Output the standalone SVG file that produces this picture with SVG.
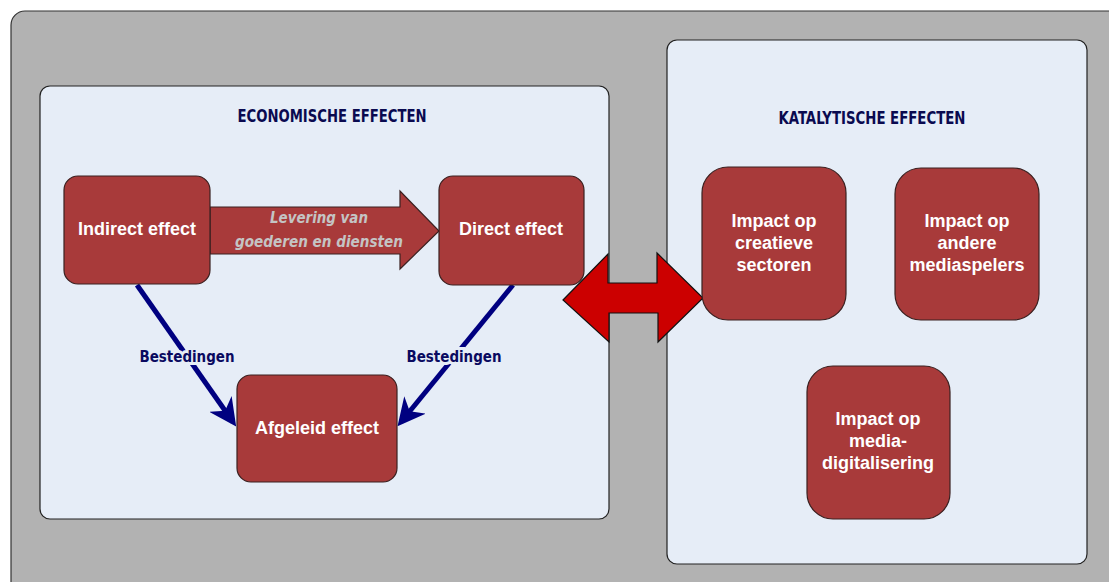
<svg xmlns="http://www.w3.org/2000/svg" width="1109" height="582" viewBox="0 0 1109 582">
  <defs>
    <style>
      .panel { fill: #e6edf7; stroke: #222; stroke-width: 1.2; }
      .node { fill: #a83a3a; stroke: #3a2020; stroke-width: 1.2; }
      .ntext { font-family: "Liberation Sans", Arial, sans-serif; font-weight: bold; font-size: 18px; fill: #ffffff; text-anchor: middle; }
      .title { font-family: "DejaVu Sans Condensed", "Liberation Sans Narrow", "Liberation Sans", sans-serif; font-weight: bold; font-size: 17px; fill: #0a0a50; text-anchor: middle; }
      .elabel { font-family: "DejaVu Sans Condensed", "Liberation Sans Narrow", "Liberation Sans", sans-serif; font-weight: bold; font-size: 16px; fill: #0a0a60; text-anchor: middle; stroke: #e6edf7; stroke-width: 6; paint-order: stroke; }
      .flow { stroke: #000080; stroke-width: 5; fill: none; }
      .alabel { font-family: "DejaVu Sans Condensed", "Liberation Sans Narrow", "Liberation Sans", sans-serif; font-weight: bold; font-style: italic; font-size: 16px; fill: #c4c4c4; text-anchor: middle; }
    </style>
    <marker id="navyHead" viewBox="0 0 10 10" refX="8" refY="5" markerWidth="5.5" markerHeight="5.5" orient="auto" markerUnits="strokeWidth">
      <path d="M0,0 L10,5 L0,10 L3,5 Z" fill="#000080"/>
    </marker>
  </defs>

  <!-- background frame -->
  <rect x="11" y="11" width="1120" height="600" rx="14" fill="#b2b2b2" stroke="#333" stroke-width="1.2"/>

  <!-- panels -->
  <g id="panel-economisch">
    <rect class="panel" x="40" y="86" width="569" height="433" rx="10"/>
    <text class="title" x="332" y="122" textLength="189" lengthAdjust="spacingAndGlyphs">ECONOMISCHE EFFECTEN</text>
  </g>
  <g id="panel-katalytisch">
    <rect class="panel" x="667" y="40" width="420" height="524" rx="10"/>
    <text class="title" x="872" y="124" textLength="187" lengthAdjust="spacingAndGlyphs">KATALYTISCHE EFFECTEN</text>
  </g>

  <!-- connectors -->
  <g id="connectors">
    <g id="levering">
      <path class="node" d="M210,207 L400,207 L400,191 L439,231 L400,269 L400,254 L210,254 Z"/>
      <text class="alabel" x="319" y="223" textLength="98" lengthAdjust="spacingAndGlyphs">Levering van</text>
      <text class="alabel" x="319" y="247" textLength="168" lengthAdjust="spacingAndGlyphs">goederen en diensten</text>
    </g>
    <g id="bestedingen-links">
      <line class="flow" x1="137" y1="285" x2="233" y2="422" marker-end="url(#navyHead)"/>
      <text class="elabel" x="187" y="362" textLength="95" lengthAdjust="spacingAndGlyphs">Bestedingen</text>
    </g>
    <g id="bestedingen-rechts">
      <line class="flow" x1="513" y1="285" x2="401" y2="422" marker-end="url(#navyHead)"/>
      <text class="elabel" x="454" y="362" textLength="95" lengthAdjust="spacingAndGlyphs">Bestedingen</text>
    </g>
    <path id="wisselwerking" d="M563,300 L608,254 L608,283 L657,283 L657,253 L703,298 L658,342 L658,313 L609,313 L609,342 Z" fill="#cc0000" stroke="#111" stroke-width="1.2" stroke-linejoin="miter"/>
  </g>

  <!-- economic effect nodes -->
  <g id="indirect-effect">
    <rect class="node" x="64" y="176" width="146" height="108" rx="14"/>
    <text class="ntext" x="137" y="235">Indirect effect</text>
  </g>
  <g id="direct-effect">
    <rect class="node" x="439" y="176" width="145" height="109" rx="14"/>
    <text class="ntext" x="511" y="235">Direct effect</text>
  </g>
  <g id="afgeleid-effect">
    <rect class="node" x="237" y="375" width="160" height="107" rx="14"/>
    <text class="ntext" x="317" y="434">Afgeleid effect</text>
  </g>

  <!-- catalytic effect nodes -->
  <g id="creatieve-sectoren">
    <rect class="node" x="702" y="167" width="144" height="153" rx="26"/>
    <text class="ntext" x="774" y="227">Impact op</text>
    <text class="ntext" x="774" y="249">creatieve</text>
    <text class="ntext" x="774" y="271">sectoren</text>
  </g>
  <g id="andere-mediaspelers">
    <rect class="node" x="895" y="168" width="144" height="152" rx="26"/>
    <text class="ntext" x="967" y="227">Impact op</text>
    <text class="ntext" x="967" y="249">andere</text>
    <text class="ntext" x="967" y="271">mediaspelers</text>
  </g>
  <g id="media-digitalisering">
    <rect class="node" x="807" y="366" width="143" height="153" rx="26"/>
    <text class="ntext" x="878" y="425">Impact op</text>
    <text class="ntext" x="878" y="447">media-</text>
    <text class="ntext" x="878" y="469">digitalisering</text>
  </g>
</svg>
